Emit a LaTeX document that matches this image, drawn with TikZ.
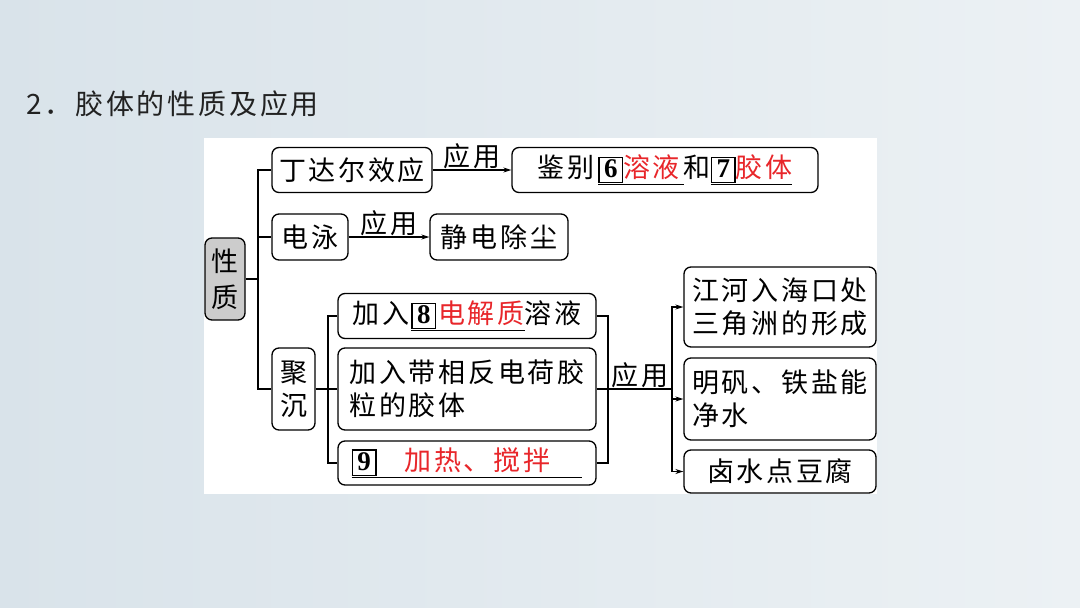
\documentclass[tikz,border=0pt]{standalone}
\usepackage{fontspec}
\setmainfont{Liberation Serif}
\newfontfamily\cjk[LetterSpace=10]{Noto Sans CJK SC}
\usetikzlibrary{arrows.meta}
\definecolor{ansred}{HTML}{E8262A}
\definecolor{bgl}{HTML}{D9E3EA}
\definecolor{bgr}{HTML}{ECF1F4}
\definecolor{titlec}{HTML}{222222}
\newcommand{\cjkfont}{\cjk\fontsize{27}{33}\selectfont}
\newcommand{\bx}[1]{{\setlength{\fboxsep}{1pt}\setlength{\fboxrule}{1.4pt}\fbox{\hbox to 20pt{\hss\rule[-3pt]{0pt}{22pt}\normalfont\bfseries\fontsize{27}{27}\selectfont #1\hss}}}}
\newcommand{\ulx}[1]{{\setbox0\hbox{#1}\rlap{\rule[-7pt]{\wd0}{1.1pt}}\box0}}
\newcommand{\rd}[1]{\textcolor{ansred}{#1}}
\begin{document}
\begin{tikzpicture}[x=1pt,y=-1pt,
  bxs/.style={draw, line width=1.3pt, rounded corners=7pt, inner sep=0pt, font=\cjkfont},
  ln/.style={line width=1.1pt},
  ar/.style={ln, -{Stealth[length=8pt,width=5pt]}},
  lbl/.style={font=\cjkfont, inner sep=1pt}]
\useasboundingbox (0,0) rectangle (1080,608);
\shade[left color=bgl, right color=bgr] (0,0) rectangle (1080,608);
\fill[white] (204,138) rectangle (877,494);
\node[anchor=west, font=\cjk\fontsize{28}{30}\selectfont, text=titlec, inner sep=0pt] (title) at (26,104) {2．胶体的性质及应用};
% nodes
\node[bxs, fill=gray!40, minimum width=40pt, minimum height=82pt, align=center] (xz) at (225,279) {性\\[3pt]质};
\node[bxs, minimum width=160pt, minimum height=45pt] (tdr) at (352,170) {丁达尔效应};
\node[bxs, minimum width=306pt, minimum height=45pt] (jb) at (665,170) {鉴别\hspace{4pt}\ulx{\bx{6}\rd{溶液}\hspace{4pt}}和\ulx{\bx{7}\rd{胶体}}};
\node[bxs, minimum width=76pt, minimum height=46pt] (dy) at (310,237) {电泳};
\node[bxs, minimum width=138pt, minimum height=46pt] (jd) at (499,237) {静电除尘};
\node[bxs, minimum width=43pt, minimum height=82pt, align=center] (jc) at (293.5,389) {聚\\沉};
\node[bxs, minimum width=258pt, minimum height=45pt] (a1) at (467,316) {加入\hspace{2pt}\ulx{\bx{8}\hspace{2pt}\rd{电解质}}溶液};
\node[bxs, minimum width=258pt, minimum height=82pt, align=left] (a2) at (467,389) {加入带相反电荷胶\\粒的胶体};
\node[bxs, minimum width=258pt, minimum height=44pt] (a3) at (467,463) {\ulx{\bx{9}\hspace{28pt}\rd{加热、搅拌}\hspace{32pt}}};
\node[bxs, minimum width=192pt, minimum height=80pt, align=left] (r1) at (780,307) {江河入海口处\\三角洲的形成};
\node[bxs, minimum width=192pt, minimum height=82pt, align=left] (r2) at (780,399) {明矾、铁盐能\\净水};
\node[bxs, minimum width=192pt, minimum height=43pt] (r3) at (780,471.5) {卤水点豆腐};
% junctions
\coordinate (j1) at (258,279);
\coordinate (j2) at (328,389);
\coordinate (j3) at (608,389);
\coordinate (j4) at (672,389);
% connectors
\draw[ln] (xz.east) -- (j1);
\draw[ln] (j1) |- (tdr.west);
\draw[ln] (j1) |- (dy.west);
\draw[ln] (j1) |- (jc.west);
\draw[ar] (tdr.east) -- node[lbl, above] {应用} (jb.west);
\draw[ar] (dy.east) -- node[lbl, above] {应用} (jd.west);
\draw[ln] (jc.east) -- (j2);
\draw[ln] (j2) |- (a1.west);
\draw[ln] (j2) -- (a2.west);
\draw[ln] (j2) |- (a3.west);
\draw[ln] (a1.east) -| (j3);
\draw[ln] (a3.east) -| (j3);
\draw[ln] (a2.east) -- (j3);
\draw[ln] (j3) -- node[lbl, above] {应用} (j4);
\draw[ar] (j4) |- (r1.west);
\draw[ar] (j4) |- (r2.west);
\draw[ar] (j4) |- (r3.west);
\end{tikzpicture}
\end{document}
